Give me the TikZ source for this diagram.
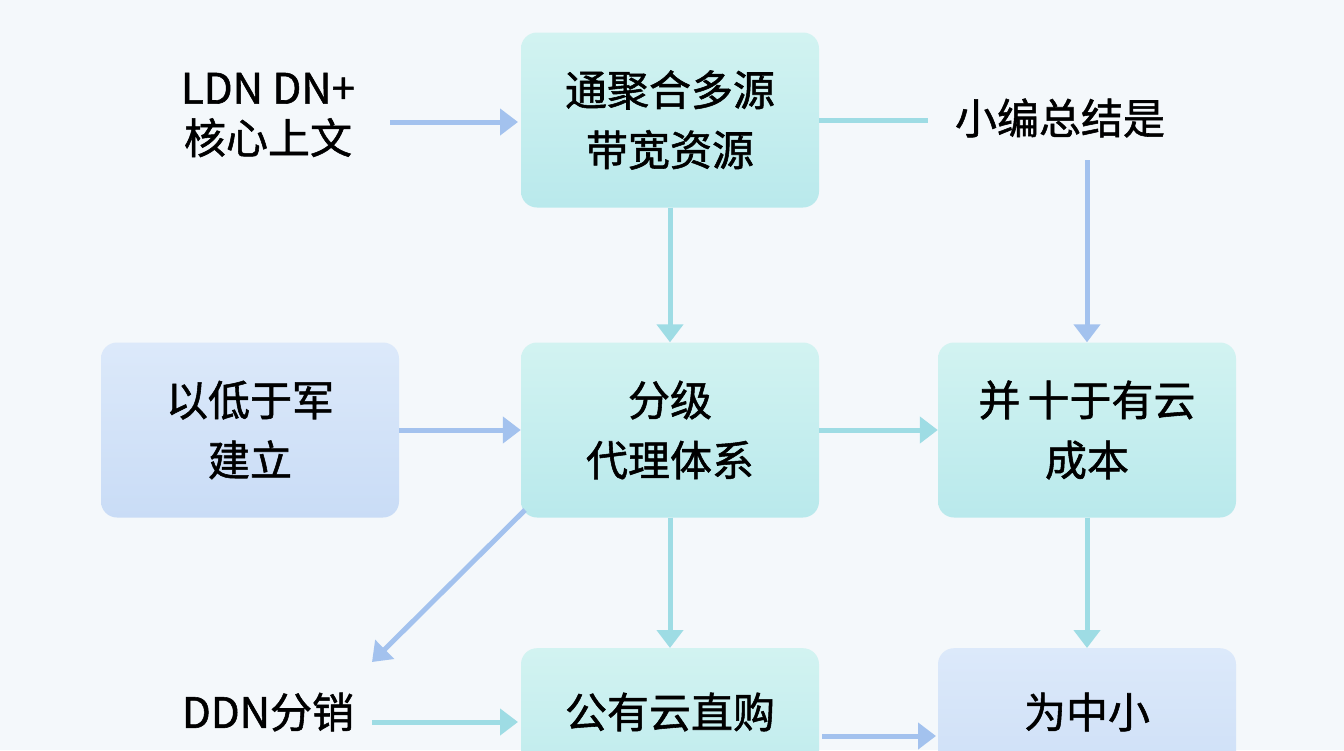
\documentclass[tikz,border=0pt]{standalone}
\usepackage{fontspec}
\setmainfont{Noto Sans CJK SC}[FakeBold=1.3]
\usetikzlibrary{arrows.meta}
\definecolor{tealA}{HTML}{D2F3F1}
\definecolor{tealB}{HTML}{B9E9EC}
\definecolor{blueA}{HTML}{DCE9FA}
\definecolor{blueB}{HTML}{C9DCF6}
\definecolor{arrT}{HTML}{9EDCE4}
\definecolor{arrB}{HTML}{A3C2EE}
\definecolor{bg}{HTML}{F4F8FB}
\begin{document}
\begin{tikzpicture}[x=1pt,y=-1pt,
 box/.style={rounded corners=16pt,minimum width=298pt,minimum height=175pt,inner sep=0pt,align=center,font=\fontsize{42}{60}\selectfont},
 tbox/.style={box,top color=tealA,bottom color=tealB,draw=none},
 bbox/.style={box,top color=blueA,bottom color=blueB,draw=none},
 lbl/.style={align=center,font=\fontsize{42}{50}\selectfont},
 arT/.style={draw=arrT,line width=5pt,-{Triangle[length=18pt,width=26pt]}},
 arB/.style={draw=arrB,line width=5pt,-{Triangle[length=18pt,width=26pt]}}]
\fill[bg] (0,0) rectangle (1344,750);
\useasboundingbox (0,0) rectangle (1344,750);
\node[tbox] (top) at (670,120) {通聚合多源\\带宽资源};
\node[bbox] (ml) at (250,430) {以低于军\\建立};
\node[tbox] (mc) at (670,430) {分级\\代理体系};
\node[tbox] (mr) at (1087,430) {并\,十于有云\\成本};
\node[tbox,anchor=north] (bc) at (670,648) {};
\node[bbox,anchor=north] (br) at (1087,648) {};
\node[lbl] (bct) at (670,712) {公有云直购};
\node[lbl] (brt) at (1087,712) {为中小};
\node[lbl] (ldn) at (268,115) {LDN DN+\\核心上文};
\node[lbl] (xb) at (1060,118) {小编总结是};
\node[lbl] (ddn) at (268,712) {DDN分销};
\coordinate (a1) at (390,122); \coordinate (a2) at (518,122);
\draw[arB] (a1) -- (a2);
\coordinate (b2) at (928,120);
\draw[draw=arrT,line width=5pt] (top.east) -- (b2);
\draw[arT] (top.south) -- (mc.north);
\coordinate (c1) at (1087,160);
\draw[arB] (c1) -- (mr.north);
\draw[arB] (ml.east) -- (mc.west);
\draw[arT] (mc.east) -- (mr.west);
\coordinate (d1) at (525,510); \coordinate (d2) at (372,662);
\draw[arB] (d1) -- (d2);
\draw[arT] (mc.south) -- (bc.north);
\draw[arT] (mr.south) -- (br.north);
\coordinate (e1) at (372,722); \coordinate (e2) at (518,722);
\draw[arT] (e1) -- (e2);
\coordinate (f1) at (822,736); \coordinate (f2) at (936,736);
\draw[arB] (f1) -- (f2);
\end{tikzpicture}
\end{document}
